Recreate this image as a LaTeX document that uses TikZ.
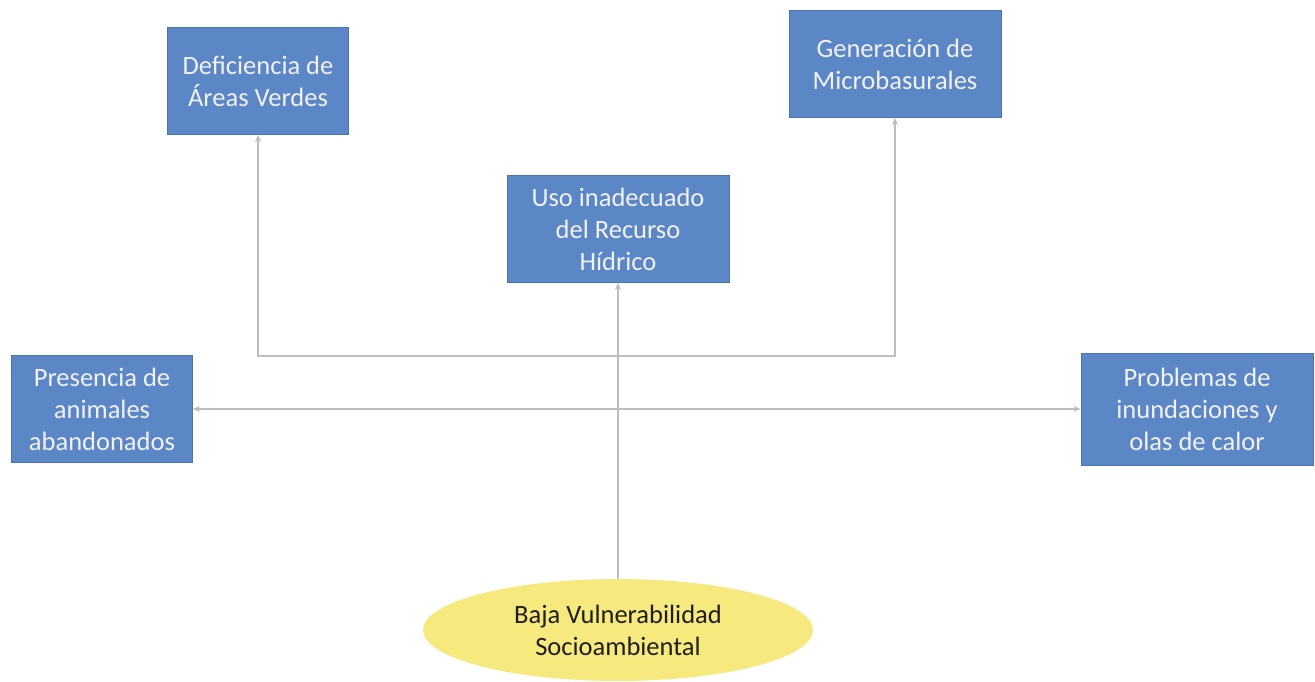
\documentclass[tikz,border=0pt]{standalone}
\usepackage{fontspec}
\setmainfont{Carlito}
\usepackage{tikz}
\usetikzlibrary{calc,positioning,shapes.geometric,arrows.meta}
\definecolor{boxblue}{HTML}{5B87C6}
\definecolor{boxedge}{HTML}{4A74AE}
\definecolor{sunny}{HTML}{F6E97E}
\definecolor{wire}{HTML}{BDBDBD}
\definecolor{ink}{HTML}{1E1E1E}

\begin{document}
\begin{tikzpicture}[x=1pt,y=1pt,
    font=\fontsize{26.5}{32}\selectfont,
    causebox/.style={rectangle,fill=boxblue,draw=boxedge,line width=0.8pt,
      text=white!95!black,align=center,inner sep=0pt},
    rootnode/.style={ellipse,fill=sunny,draw=none,text=ink,align=center,
      minimum width=390,minimum height=102,inner sep=0pt},
    wirefeed/.style={wire,line width=1.3pt,-{Stealth[length=7pt,width=6pt]}},
    wirepair/.style={wire,line width=1.3pt,{Stealth[length=7pt,width=6pt]}-{Stealth[length=7pt,width=6pt]}}]
  \useasboundingbox (0,0) rectangle (1315,681);
  % effect boxes
  \node[causebox,minimum width=181,minimum height=107] (defic) at (258,600)
      {Deficiencia de\\Áreas Verdes};
  \node[causebox,minimum width=212,minimum height=107] (gener) at (895,617)
      {Generación de\\Microbasurales};
  \node[causebox,minimum width=222,minimum height=107] (uso) at (618,452)
      {Uso inadecuado\\del Recurso\\Hídrico};
  \node[causebox,minimum width=181,minimum height=107] (presen) at (102,272)
      {Presencia de\\animales\\abandonados};
  \node[causebox,minimum width=232,minimum height=112] (probl) at (1197,272)
      {Problemas de\\inundaciones y\\olas de calor};
  % root
  \node[rootnode] (baja) at (618,51) {Baja Vulnerabilidad\\Socioambiental};
  % connectors
  \coordinate (fork) at (618,325);
  \draw[wirefeed] (baja.north) -- (uso.south);
  \draw[wirepair] (presen.east) -- (presen.east -| probl.west);
  \draw[wirefeed] (fork) -| (defic.south);
  \draw[wirefeed] (fork) -| (gener.south);
\end{tikzpicture}
\end{document}
